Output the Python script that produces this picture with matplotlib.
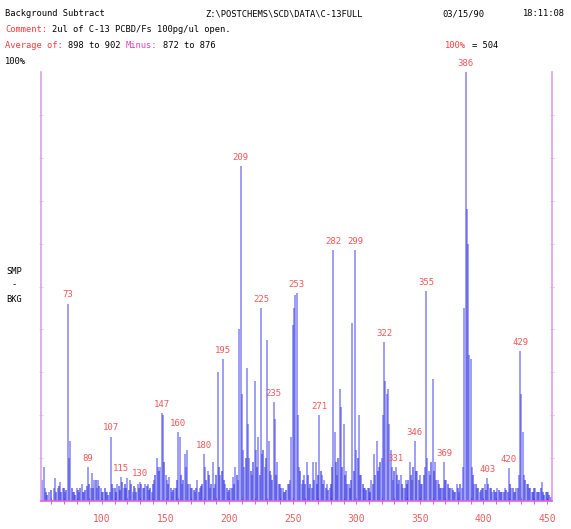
import matplotlib
matplotlib.use("Agg")
import matplotlib.pyplot as plt
import numpy as np

# background-subtracted spectrum, m/z and relative intensity (% of base peak)
mz = [53, 54, 55, 58, 62, 63, 65, 67, 69, 71, 73, 74, 75, 77, 80, 82, 84, 86,
      89, 91, 92, 94, 96, 97, 99, 101, 104, 107, 109, 112, 115, 117, 120, 122,
      124, 126, 128, 130, 132, 134, 136, 139, 141, 143, 144, 146, 147, 148,
      150, 151, 153, 155, 157, 160, 161, 163, 165, 166, 167, 169, 171, 173,
      175, 177, 180, 181, 183, 185, 187, 189, 191, 193, 195, 197, 199, 201,
      203, 205, 207, 208, 209, 210, 211, 212, 214, 215, 216, 218, 220, 221,
      223, 225, 226, 228, 230, 231, 233, 235, 236, 238, 240, 242, 244, 246,
      248, 249, 250, 251, 252, 253, 254, 255, 257, 259, 261, 263, 266, 268,
      271, 273, 275, 277, 279, 282, 283, 285, 287, 288, 290, 292, 294, 297,
      299, 300, 302, 304, 307, 309, 312, 314, 316, 318, 320, 321, 322, 323,
      324, 325, 326, 327, 328, 329, 331, 333, 335, 337, 339, 342, 344, 346,
      348, 350, 352, 354, 355, 356, 357, 358, 360, 362, 364, 366, 369, 371,
      373, 375, 377, 379, 381, 383, 384, 385, 386, 387, 388, 389, 390, 391,
      393, 395, 397, 399, 401, 403, 405, 407, 409, 411, 413, 415, 417, 420,
      422, 424, 426, 428, 429, 430, 431, 432, 434, 436, 438, 441, 443, 446,
      449, 451, 454]
rel = [5, 8, 3, 2, 3, 5.4, 3, 4.5, 3, 2, 46, 10, 14, 2, 3, 2, 4, 2,
       8, 3, 6.5, 5, 3, 5, 3, 2, 2, 15, 3, 4, 5.6, 3, 5.4, 5,
       2, 3, 4, 4.5, 3, 4, 4, 2, 5, 10, 8, 8, 20.5, 20,
       6, 5, 5.5, 2, 3, 16, 15, 4, 11, 8, 12, 4, 3, 2,
       5, 3, 11, 8, 7, 3, 9, 4, 30, 6, 33, 4, 2, 3,
       5.6, 8, 5, 40, 78, 25, 12, 8, 31, 18, 10, 6, 28, 12,
       15, 45, 11, 8, 37.5, 14, 6, 23, 19, 9, 4, 3, 2, 4,
       5, 15, 41, 45, 48, 48.5, 20, 8, 4, 6, 9, 3, 9, 9,
       20, 6, 5, 4, 3, 58.5, 16, 6, 26, 22, 18, 7, 4, 41.5,
       58.5, 12, 20, 6, 3, 3, 5, 11, 14, 8, 10, 20, 37, 28,
       25, 26, 18, 12, 8, 5, 8, 4, 6, 3, 5, 9, 5, 14,
       7, 6, 4, 8, 49, 10, 7, 6, 28.5, 9, 5, 3, 9, 5,
       3, 3, 2, 4, 2, 3, 8, 45, 100, 68, 60, 34, 33, 8,
       4, 3, 2, 3, 4, 5.4, 3, 2, 2, 3, 2, 2, 3, 7.7,
       3, 2, 3, 6, 35, 25, 16, 6, 4, 3, 2, 3, 2, 4.5,
       2, 2, 1.5]

# low-level ions between the main peaks
minor_mz = [56, 57, 60, 64, 66, 68, 70, 72, 76, 78, 79, 81, 83, 85, 87, 88, 90,
            93, 95, 98, 100,
            102, 103, 105, 106, 108, 110, 111, 113, 114, 116, 118, 119, 121,
            123, 125, 127, 129, 131, 133, 135, 137, 138, 140, 142, 145, 149,
            152, 154, 156, 158, 159,
            162, 164, 168, 170, 172, 174, 176, 178, 179, 182, 184, 186, 188,
            190, 192, 194, 196, 198, 200, 202, 204, 206,
            213, 217, 219, 222, 224, 227, 229, 232, 234, 237, 239, 241, 243,
            245, 247,
            256, 258, 260, 262, 264, 265, 267, 269, 270, 272, 274, 276, 278,
            280, 281, 284, 286, 289, 291, 293, 295, 296, 298,
            301, 303, 305, 306, 308, 310, 311, 313, 315, 317, 319, 330, 332,
            334, 336, 338, 340, 341, 343, 345, 347, 349, 351, 353,
            359, 361, 363, 365, 367, 368, 370, 372, 374, 376, 378, 380, 382,
            392, 394, 396, 398, 400, 402, 404, 406, 408, 410, 412, 414, 416,
            418, 419, 421, 423, 425, 427,
            433, 435, 437, 439, 440, 442, 444, 445, 447, 448, 450, 452, 453]
minor_rel = [2, 1.5, 2.5, 2, 3.5, 2, 3, 2.5, 3, 2, 1.5, 2.5, 3, 2, 2.5, 3.5, 4,
             3, 5, 3.5, 2,
             3, 2, 1.5, 2, 4, 3, 2, 3.5, 2.5, 4.5, 4, 3, 2.5,
             4, 3.5, 2, 3, 4, 3, 3.5, 2.5, 3, 4, 6, 7, 9,
             4, 3, 2.5, 3, 5,
             6, 5, 4, 3, 2.5, 3, 2, 3.5, 4, 5, 6, 4, 3,
             6, 8, 7, 5, 3, 2.5, 3, 4, 6,
             10, 7, 9, 8, 6, 12, 10, 7, 5, 6, 4, 3, 2,
             2.5, 4,
             7, 5, 4, 6, 4, 3, 5, 4, 6, 7, 4, 3, 2.5,
             4, 8, 9, 10, 8, 6, 4, 3, 5, 7,
             10, 6, 4, 3, 2.5, 3, 2, 4, 6, 7, 9, 7, 6,
             5, 4, 3, 4, 5, 6, 8, 7, 5, 4, 6,
             9, 7, 5, 4, 3, 3, 5, 4, 3, 2.5, 2, 3, 4,
             6, 4, 3, 2.5, 3, 2.5, 4, 3, 2.5, 2, 2.5, 2, 2,
             2.5, 2, 4, 3, 2, 3,
             5, 4, 3, 2, 3, 2, 2, 3, 2, 1.5, 2, 1.5, 1]

# peaks that carry an m/z label
labelled = [73, 89, 107, 115, 130, 147, 160, 180, 195, 209, 225, 235, 253,
            271, 282, 299, 322, 331, 346, 355, 369, 386, 403, 420, 429]

xticks = [100, 150, 200, 250, 300, 350, 400, 450]

W, H = 571, 529
fig = plt.figure(figsize=(W / 100, H / 100), dpi=100, facecolor="white")

def px(x, y):
    return x / W, 1 - y / H

ax = fig.add_axes([41 / W, 1 - 501 / H, (552 - 41) / W, (501 - 72) / H])
ax.set_xlim(52, 454)
ax.set_ylim(0, 100)

ax.vlines(minor_mz, 0, minor_rel, color="#2a2ae0", alpha=0.7, linewidth=1.15)
ax.vlines(mz, 0, rel, color="#3a3ae8", alpha=0.6, linewidth=1.15)

lookup = dict(zip(mz, rel))
for m in labelled:
    ax.annotate(str(m), (m, lookup[m]), xytext=(0, 3), textcoords="offset points",
                ha="center", va="bottom", fontsize=6.5, color="#f05858",
                family="DejaVu Sans Mono", annotation_clip=False)

# axes frame: magenta sides and base line
ax.spines["top"].set_visible(False)
ax.spines["left"].set_color("#dda0ea")
ax.spines["right"].set_color("#dda0ea")
ax.spines["bottom"].set_color("#e060e0")
for s in ["left", "right", "bottom"]:
    ax.spines[s].set_linewidth(1.2)

ax.set_xticks(xticks)
ax.set_xticks(np.arange(60, 455, 10), minor=True)
ax.tick_params(axis="x", which="both", direction="inout", color="#e060e0",
               length=4, width=0.8, labelsize=7, labelcolor="#e06060", pad=7)
ax.set_xticklabels([str(t) for t in xticks], family="DejaVu Sans Mono")
ax.set_yticks(np.arange(10, 100, 10))
ax.tick_params(axis="y", which="both", direction="inout", color="#e4b8ee",
               length=3, width=0.6, labelleft=False, right=True)

# header block
mono = "DejaVu Sans Mono"
hs = 6.3
red = "#f03c3c"
fig.text(*px(5, 14), "Background Subtract", fontsize=hs, family=mono, va="center")
fig.text(*px(205, 14), r"Z:\POSTCHEMS\SCD\DATA\C-13FULL", fontsize=hs,
         family=mono, va="center")
fig.text(*px(442, 14), "03/15/90", fontsize=hs, family=mono, va="center")
fig.text(*px(565, 14), "18:11:08", fontsize=hs, family=mono,
         va="center", ha="right")
fig.text(*px(5, 30), "Comment:", fontsize=hs, family=mono, va="center",
         color=red)
fig.text(*px(52, 30), "2ul of C-13 PCBD/Fs 100pg/ul open.", fontsize=hs,
         family=mono, va="center")
fig.text(*px(5, 46), "Average of:", fontsize=hs, family=mono, va="center",
         color=red)
fig.text(*px(68, 46), "898 to 902", fontsize=hs, family=mono, va="center")
fig.text(*px(126, 46), "Minus:", fontsize=hs, family=mono, va="center",
         color="#e040c0")
fig.text(*px(163, 46), "872 to 876", fontsize=hs, family=mono, va="center")
fig.text(*px(445, 46), "100%", fontsize=hs, family=mono, va="center",
         color=red)
fig.text(*px(472, 46), "= 504", fontsize=hs, family=mono, va="center")
fig.text(*px(5, 61), "100%", fontsize=hs, family=mono, va="center")

fig.text(*px(14, 271), "SMP", fontsize=hs, family=mono, va="center", ha="center")
fig.text(*px(14, 285), "-", fontsize=hs, family=mono, va="center", ha="center")
fig.text(*px(14, 299), "BKG", fontsize=hs, family=mono, va="center", ha="center")

fig.savefig("out.png", dpi=100, facecolor="white")
